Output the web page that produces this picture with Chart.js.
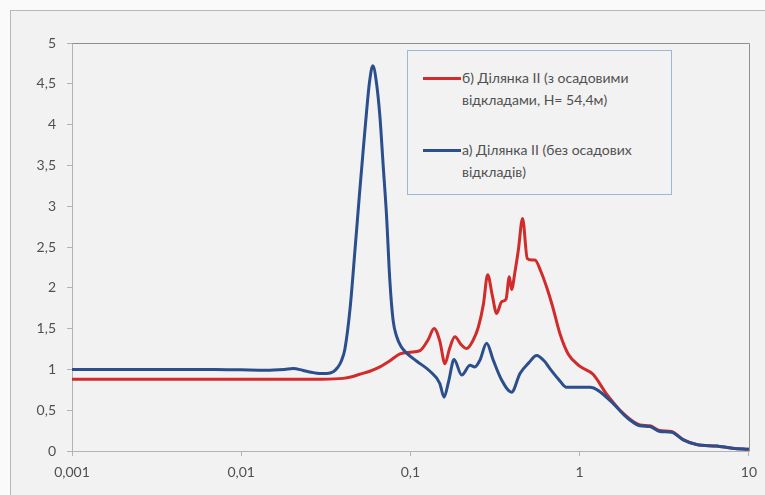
<!DOCTYPE html>
<html lang="uk">
<head>
<meta charset="utf-8">
<title>Спектральні відношення, ділянка II</title>
<script src="https://cdn.jsdelivr.net/npm/chart.js@4/dist/chart.umd.min.js"></script>
<style>
  html, body { margin: 0; padding: 0; background: #fafafa; }
  #wrap { position: relative; width: 765px; height: 495px; overflow: hidden; }
  #frame { position: absolute; left: 10px; top: 10px; width: 800px; height: 520px;
           border: 1px solid #b8b8b8; background: #f2f2f2; }
  #chart { position: absolute; left: 0; top: 0; }
  #legend { position: absolute; left: 407px; top: 50px; width: 265px; height: 145px;
            border: 1px solid #9ab8da; background: #f2f2f2; box-sizing: border-box;
            font-family: Lato, "Liberation Sans", sans-serif; font-size: 14px; color: #505050; }
  .entry { position: absolute; left: 0; }
  .swatch { position: absolute; left: 15px; width: 38px; height: 3px; }
  .text { position: absolute; left: 54px; white-space: nowrap; line-height: 22px; }
</style>
</head>
<body>
<div id="wrap">
  <div id="frame"></div>
  <canvas id="chart" width="765" height="495"></canvas>
  <div id="legend"></div>
</div>
<script>
// а) ділянка II без осадових відкладів
const freqA = [0.001, 0.002, 0.004, 0.007, 0.01, 0.014, 0.018, 0.0203, 0.023, 0.026, 0.029, 0.032,
  0.035, 0.037, 0.039, 0.041, 0.044, 0.047, 0.05, 0.0526, 0.055, 0.0572, 0.0599, 0.063, 0.066, 0.069,
  0.0723, 0.0755, 0.079, 0.083, 0.088, 0.095, 0.109, 0.13, 0.149, 0.158, 0.168, 0.181, 0.201, 0.225,
  0.24, 0.257, 0.282, 0.309, 0.346, 0.396, 0.444, 0.5, 0.557, 0.62, 0.667, 0.75, 0.837, 1.0, 1.15,
  1.29, 1.58, 1.89, 2.27, 2.6, 2.98, 3.49, 4.09, 4.91, 6.44, 8.0, 10];
const ampA = [1.00, 1.00, 1.00, 1.00, 0.995, 0.99, 1.0, 1.01, 0.99, 0.965, 0.95, 0.95,
  0.97, 1.02, 1.10, 1.25, 1.75, 2.46, 3.15, 3.69, 4.15, 4.51, 4.72, 4.51, 4.10, 3.5,
  2.87, 2.1, 1.6, 1.40, 1.28, 1.20, 1.10, 0.98, 0.83, 0.66, 0.85, 1.12, 0.93, 1.05,
  1.03, 1.11, 1.32, 1.11, 0.87, 0.72, 0.95, 1.08, 1.17, 1.10, 1.01, 0.88, 0.78, 0.78, 0.78,
  0.74, 0.58, 0.415, 0.31, 0.30, 0.24, 0.23, 0.137, 0.08, 0.06, 0.035, 0.02];

// б) ділянка II з осадовими відкладами, H = 54,4 м
const freqB = [0.001, 0.005, 0.01, 0.02, 0.03, 0.04, 0.045, 0.05, 0.058, 0.066, 0.075, 0.0867,
  0.1, 0.114, 0.127, 0.138, 0.149, 0.16, 0.17, 0.183, 0.2, 0.215, 0.235, 0.252, 0.27, 0.286,
  0.305, 0.323, 0.346, 0.367, 0.384, 0.396, 0.415, 0.434, 0.46, 0.49, 0.52, 0.544, 0.59, 0.64,
  0.69, 0.764, 0.855, 1.0, 1.2, 1.44, 1.81, 2.27, 2.6, 2.98, 3.49, 4.09, 4.91, 6.44, 8, 10];
const ampB = [0.88, 0.88, 0.88, 0.88, 0.88, 0.89, 0.91, 0.94, 0.98, 1.03, 1.10, 1.19,
  1.21, 1.23, 1.36, 1.50, 1.35, 1.07, 1.25, 1.40, 1.30, 1.255, 1.36, 1.52, 1.80, 2.16,
  1.90, 1.685, 1.83, 1.86, 2.135, 1.98, 2.2, 2.46, 2.85, 2.36, 2.34, 2.34, 2.2, 2.0,
  1.78, 1.44, 1.19, 1.04, 0.94, 0.70, 0.46, 0.32, 0.31, 0.25, 0.24, 0.14, 0.08, 0.06, 0.035, 0.02];

const xDecades = [0.001, 0.01, 0.1, 1, 10];
const yTickValues = [0, 0.5, 1, 1.5, 2, 2.5, 3, 3.5, 4, 4.5, 5];

const labelA = ['а) Ділянка II (без осадових', 'відкладів)'];
const labelB = ['б) Ділянка II (з осадовими', 'відкладами, Н= 54,4м)'];

const colorA = '#2b4e8c';
const colorB = '#d12b2b';

const toPoints = (xs, ys) => xs.map((x, i) => ({ x, y: ys[i] }));
const comma = v => String(v).replace('.', ',');

// frame around the plotting area (top and right edges)
const plotFrame = {
  id: 'plotFrame',
  beforeDatasetsDraw(chart) {
    const { ctx, chartArea: a } = chart;
    ctx.save();
    ctx.strokeStyle = '#8f8f8f';
    ctx.lineWidth = 1;
    ctx.beginPath();
    ctx.moveTo(Math.round(a.left) + 0.5, Math.round(a.top) + 0.5);
    ctx.lineTo(Math.round(a.right) + 0.5, Math.round(a.top) + 0.5);
    ctx.lineTo(Math.round(a.right) + 0.5, Math.round(a.bottom) + 0.5);
    ctx.stroke();
    ctx.restore();
  }
};

const tickFont = { family: 'Lato, "Liberation Sans", sans-serif', size: 14 };

const chart = new Chart(document.getElementById('chart'), {
  type: 'line',
  data: {
    datasets: [
      { label: labelA.join(' '), data: toPoints(freqA, ampA), borderColor: colorA },
      { label: labelB.join(' '), data: toPoints(freqB, ampB), borderColor: colorB }
    ]
  },
  options: {
    responsive: false,
    animation: false,
    layout: { padding: { left: 0, top: 43, right: 16, bottom: 0 } },
    elements: {
      point: { radius: 0 },
      line: { borderWidth: 3, cubicInterpolationMode: 'monotone', fill: false }
    },
    plugins: { legend: { display: false }, tooltip: { enabled: false } },
    scales: {
      x: {
        type: 'logarithmic',
        min: 0.001,
        max: 10,
        afterBuildTicks(scale) { scale.ticks = xDecades.map(v => ({ value: v })); },
        afterFit(scale) { scale.height = 44; },
        border: { color: '#b3b3b3' },
        grid: { drawOnChartArea: false, tickLength: 5, color: '#b3b3b3' },
        ticks: { autoSkip: false, maxRotation: 0, padding: 8, color: '#505050', font: tickFont,
                 callback: v => comma(v) }
      },
      y: {
        min: 0,
        max: 5,
        afterBuildTicks(scale) { scale.ticks = yTickValues.map(v => ({ value: v })); },
        afterFit(scale) { scale.width = 72; },
        border: { color: '#b3b3b3' },
        grid: { drawOnChartArea: false, tickLength: 5, color: '#b3b3b3' },
        ticks: { padding: 11, color: '#505050', font: tickFont, callback: v => comma(v) }
      }
    }
  },
  plugins: [plotFrame]
});

// legend: entry б) first, then а)
const legendEntries = [
  { lines: labelB, color: colorB, top: 16 },
  { lines: labelA, color: colorA, top: 88 }
];
const legend = document.getElementById('legend');
legendEntries.forEach(e => {
  const entry = document.createElement('div');
  entry.className = 'entry';
  entry.style.top = e.top + 'px';
  const sw = document.createElement('span');
  sw.className = 'swatch';
  sw.style.background = e.color;
  sw.style.top = '10px';
  const tx = document.createElement('div');
  tx.className = 'text';
  tx.innerHTML = e.lines.join('<br>');
  entry.appendChild(sw);
  entry.appendChild(tx);
  legend.appendChild(entry);
});
</script>
</body>
</html>
